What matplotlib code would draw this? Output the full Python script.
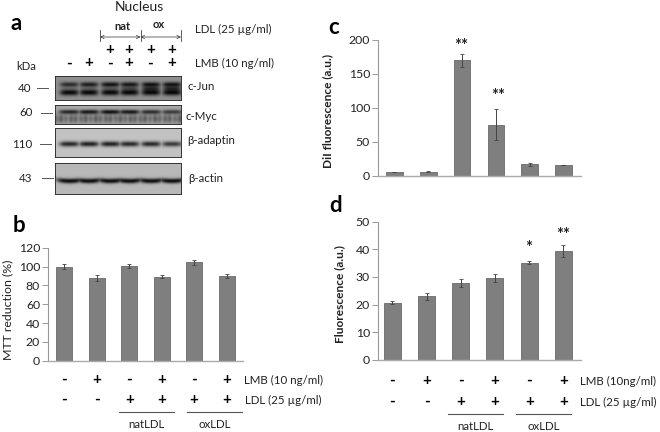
import numpy as np
import matplotlib
matplotlib.use("Agg")
import matplotlib.pyplot as plt

plt.rcParams['font.family'] = ['Lato', 'DejaVu Sans']
W, H = 660, 432
TXT = '#222222'

mtt = [100, 87.5, 100.3, 89, 104.3, 89.7]
mtt_err = [2.2, 3.2, 2.2, 1.6, 2.6, 2.0]
dil = [6, 6.5, 170.5, 75.5, 17, 16]
dil_err = [0.6, 0.6, 9.5, 22.5, 1.8, 0.4]
fluo = [20.7, 23, 27.7, 29.6, 35.2, 39.3]
fluo_err = [0.6, 1.3, 1.5, 1.4, 0.7, 2.2]
lmb_signs = ['-', '+', '-', '+', '-', '+']
ldl_signs = ['-', '-', '+', '+', '+', '+']
blot_labels = ['c-Jun', 'c-Myc', 'β-adaptin', 'β-actin']
blot_kda = ['40', '60', '110', '43']

fig = plt.figure(figsize=(W/100, H/100), dpi=100, facecolor='white')

def px_axes(l, t, r, b, **kw):
    return fig.add_axes([l/W, 1-b/H, (r-l)/W, (b-t)/H], **kw)

ov = px_axes(0, 0, W, H)
ov.set_xlim(0, W); ov.set_ylim(H, 0); ov.axis('off')

def T(x, y, s, size=8.3, ha='left', va='center', **kw):
    kw.setdefault('color', TXT)
    ov.text(x, y, s, fontsize=size, ha=ha, va=va, **kw)

def bars(box, vals, errs, ymax, step, ylabel, centers, width, ylab_x, ylab_y, bold_label=False):
    l, t, r, b = box
    ax = px_axes(l, t, r, b)
    ax.patch.set_alpha(0)
    ax.set_xlim(l, r); ax.set_ylim(0, ymax)
    ax.bar(centers, vals, width=width, color='#7f7f7f', edgecolor='#6a6a6a', linewidth=0.6,
           yerr=errs, error_kw=dict(ecolor='#444444', elinewidth=0.7, capsize=1.4, capthick=0.6))
    ax.set_xticks([])
    ax.set_yticks(np.arange(0, ymax+1, step))
    ax.tick_params(axis='y', labelsize=8.8, length=4, width=0.7, color='#999999', labelcolor=TXT, pad=1.5)
    for s in ('top', 'right'):
        ax.spines[s].set_visible(False)
    ax.spines['left'].set_color('#999999'); ax.spines['left'].set_linewidth(0.8)
    ax.spines['bottom'].set_color('#aaaaaa'); ax.spines['bottom'].set_linewidth(1.0)
    T(ylab_x, ylab_y, ylabel, size=8.9 if not bold_label else 8.6, ha='center', rotation=90,
      fontweight='bold' if bold_label else 'normal')
    return ax

def signs(centers, y1, y2, x_lab1, x_lab2, lab1, lab2, line1, line2, ynat, ylab):
    for c, a, d in zip(centers, lmb_signs, ldl_signs):
        T(c, y1, a, size=11, ha='center', fontweight='bold', color='black')
        T(c, y2, d, size=11, ha='center', fontweight='bold', color='black')
    T(x_lab1, y1, lab1)
    T(x_lab2, y2, lab2)
    ov.plot(line1, [ynat, ynat], color='#555555', lw=0.8)
    ov.plot(line2, [ynat, ynat], color='#555555', lw=0.8)
    T(sum(line1)/2, ylab, 'natLDL', ha='center')
    T(sum(line2)/2, ylab, 'oxLDL', ha='center')

# Panel b
cb = [64, 96.7, 129.3, 162, 194, 226.7]
bars((47.7, 247.7, 243, 360.7), mtt, mtt_err, 120, 20, 'MTT reduction (%)', cb, 15.7, 8, 310)
signs(cb, 380, 400, 244, 245, 'LMB (10 ng/ml)', 'LDL (25 µg/ml)',
      (119, 174), (187, 242), 412, 425)

# Panel c
cc = [394.3, 428.3, 462, 496, 529.7, 563.3]
bars((377.7, 40, 580.7, 176), dil, dil_err, 200, 50, 'DiI fluorescence (a.u.)', cc, 16.5, 328, 111, True)
T(461.5, 46, '**', size=12, ha='center', fontweight='bold')
T(498, 96, '**', size=12, ha='center', fontweight='bold')

# Panel d
cd = [392.3, 426.7, 460.7, 494.7, 529.3, 563.3]
bars((377.7, 221.7, 580.7, 359.7), fluo, fluo_err, 50, 10, 'Fluorescence (a.u.)', cd, 16.5, 339.5, 294, True)
T(529, 248, '*', size=12, ha='center', fontweight='bold')
T(563, 235, '**', size=12, ha='center', fontweight='bold')
signs(cd, 381, 402, 580, 580, 'LMB (10ng/ml)', 'LDL (25 µg/ml)',
      (448, 503), (516, 571), 414, 427)

# Panel letters
for x, y, s in [(16, 23, 'a'), (19, 225, 'b'), (334, 27, 'c'), (336, 205, 'd')]:
    T(x, y, s, size=16, ha='center', fontweight='bold', color='black')

# Panel a: labels
T(139, 7, 'Nucleus', size=10, ha='center')
T(122, 26, 'nat', size=8, ha='center', fontweight='bold')
T(159, 25, 'ox', size=8, ha='center', fontweight='bold')
T(195, 29, 'LDL (25 µg/ml)')
T(195, 63, 'LMB (10 ng/ml)')
T(16, 66, 'kDa', size=8.2)
for x in (100, 140.5, 181):
    ov.plot([x, x], [30, 41], color='#444444', lw=0.6)
for a, b in [(100, 140.5), (140.5, 181)]:
    ov.annotate('', xy=(a, 37), xytext=(b, 37),
                arrowprops=dict(arrowstyle='<->', lw=0.5, color='#333333', mutation_scale=6, shrinkA=0, shrinkB=0))
lanes = [67.5, 87, 108.5, 127.5, 149, 170]
for x in lanes[2:]:
    T(x+1.5, 50, '+', size=11, ha='center', fontweight='bold', color='black')
for x, s in zip(lanes, lmb_signs):
    T(x+1.5, 63.5, s, size=11, ha='center', fontweight='bold', color='black')

# Blots: computed images from band rows (y offset, darkness, half thickness, half width, wave)
def blot(l, t, r, b, bg, rows, low=None):
    w, h = int(r-l), int(b-t)
    X, Y = np.meshgrid(np.arange(w)+l+.5, np.arange(h)+t+.5)
    img = np.full((h, w), bg, dtype=float)
    for yy, dark, th, hw, wave, fl in rows:
        out = np.zeros_like(img)
        for i, c in enumerate(lanes):
            cx = c + 2
            band = fl[i]*np.exp(-((X-cx)/hw)**4)*np.exp(-((Y-yy+wave*((X-cx)/hw)**2)/th)**2)
            out = np.maximum(out, band)
        img -= dark*out
    if low:
        yy, amt, th = low
        img -= amt*np.exp(-((Y-yy)/th)**2)*(0.75+0.25*np.sin(X*0.9)*np.sin(X*0.37+1))
    ax = px_axes(l, t, r, b)
    ax.imshow(np.clip(img, 0, 1), cmap='gray', vmin=0, vmax=1, aspect='auto', interpolation='bilinear')
    ax.set_xticks([]); ax.set_yticks([])
    for s in ax.spines.values():
        s.set_color('#333333'); s.set_linewidth(0.7)

one = [1, 1, 1, 1, 1, 1]
blot(55, 76, 181, 100, 0.56, [(84.5, 0.48, 2.5, 9.5, 0, [.8, .9, 1, .95, 1, 1]),
                              (92.5, 0.52, 3.0, 9.5, 0, one),
                              (88.5, 0.3, 2.2, 9, 0, [.2, .3, .4, .6, 1, 1])])
blot(55, 105, 181, 124, 0.66, [(112.5, 0.56, 2.0, 10.5, 0, [.9, 1, 1.05, 1, .85, .75])], (119, 0.3, 4.5))
blot(55, 128, 181, 157, 0.76, [(144, 0.62, 2.7, 10, 0, [.95, 1, 1, .95, .95, .85])])
blot(55, 163, 181, 194, 0.72, [(181, 0.66, 2.5, 13, 1.3, one)])

for (x, y, s), (lx, ly, k, a, bb) in zip(
        [(187, 87, blot_labels[0]), (186, 116, blot_labels[1]), (187, 140, blot_labels[2]), (188, 178, blot_labels[3])],
        [(32, 88, blot_kda[0], 37, 48), (33, 113, blot_kda[1], 41, 52), (32, 144, blot_kda[2], 40, 51), (33, 178, blot_kda[3], 42, 53)]):
    T(x, y, s)
    T(lx-14, ly, k, ha='left') if k != '110' else T(lx, ly, k, ha='right')
    ov.plot([a, bb], [ly, ly], color='#555555', lw=0.7)

fig.savefig('out.png', dpi=100, facecolor='white')
